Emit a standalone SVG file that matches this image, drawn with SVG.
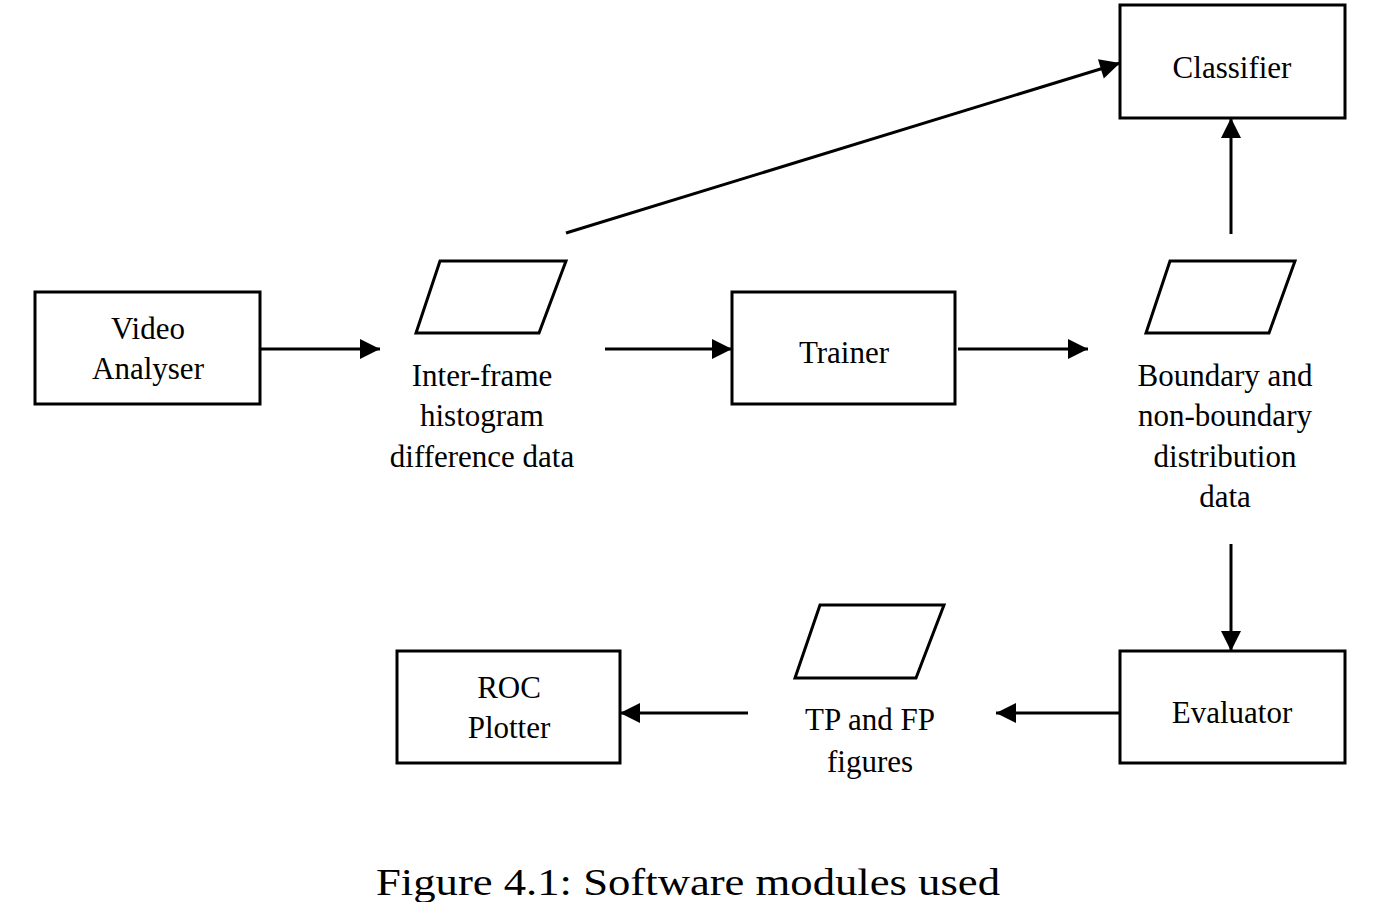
<svg xmlns="http://www.w3.org/2000/svg" width="1376" height="902" viewBox="0 0 1376 902">
<style>
.n{fill:#fff;stroke:#000;stroke-width:3}
text{font-family:"Liberation Serif","Times New Roman",serif;font-size:31px;fill:#000;text-anchor:middle}
.c{stroke:#000;stroke-width:3;fill:none}
</style>
<defs><marker id="a" viewBox="0 0 10 10" refX="10" refY="5" markerWidth="8" markerHeight="8" markerUnits="userSpaceOnUse" orient="auto" style="overflow:visible"><path d="M0,0L10,5L0,10z" fill="#000" transform="scale(2.5) translate(-6,-3)"/></marker></defs>
<rect width="1376" height="902" fill="#fff"/>
<g id="video"><rect class="n" x="35" y="292" width="225" height="112"/><text x="148" y="339">Video</text><text x="148" y="379">Analyser</text></g>
<g id="interframe"><polygon class="n" points="440,261 566,261 539,333 416,333"/><text x="482" y="386">Inter-frame</text><text x="482" y="426">histogram</text><text x="482" y="467">difference data</text></g>
<g id="trainer"><rect class="n" x="732" y="292" width="223" height="112"/><text x="844" y="363">Trainer</text></g>
<g id="boundary"><polygon class="n" points="1170,261 1295,261 1269,333 1146,333"/><text x="1225" y="386">Boundary and</text><text x="1225" y="426">non-boundary</text><text x="1225" y="467">distribution</text><text x="1225" y="507">data</text></g>
<g id="classifier"><rect class="n" x="1120" y="5" width="225" height="113"/><text x="1232" y="78">Classifier</text></g>
<g id="evaluator"><rect class="n" x="1120" y="651" width="225" height="112"/><text x="1232" y="723">Evaluator</text></g>
<g id="tpfp"><polygon class="n" points="820,605 944,605 916,678 795,678"/><text x="870" y="730">TP and FP</text><text x="870" y="772">figures</text></g>
<g id="roc"><rect class="n" x="397" y="651" width="223" height="112"/><text x="509" y="698">ROC</text><text x="509" y="738">Plotter</text></g>
<g id="connectors">
<line class="c" x1="260" y1="349" x2="380" y2="349" marker-end="url(#a)"/>
<line class="c" x1="605" y1="349" x2="732" y2="349" marker-end="url(#a)"/>
<line class="c" x1="958" y1="349" x2="1088" y2="349" marker-end="url(#a)"/>
<line class="c" x1="566" y1="233" x2="1120" y2="63" marker-end="url(#a)"/>
<line class="c" x1="1231" y1="234" x2="1231" y2="118" marker-end="url(#a)"/>
<line class="c" x1="1231" y1="544" x2="1231" y2="651" marker-end="url(#a)"/>
<line class="c" x1="1120" y1="713" x2="996" y2="713" marker-end="url(#a)"/>
<line class="c" x1="748" y1="713" x2="620" y2="713" marker-end="url(#a)"/>
</g>
<text x="688" y="895" style="font-size:38px" textLength="624" lengthAdjust="spacingAndGlyphs">Figure 4.1: Software modules used</text>
</svg>
